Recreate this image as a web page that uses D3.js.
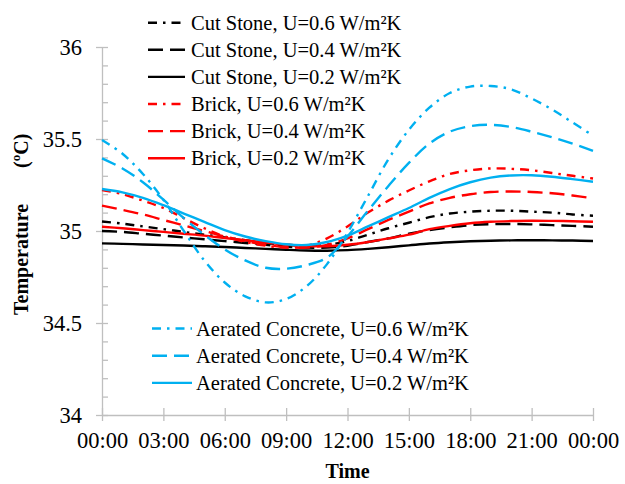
<!DOCTYPE html>
<html><head><meta charset="utf-8">
<script src="https://cdn.jsdelivr.net/npm/d3@7"></script>
<style>
html,body{margin:0;padding:0;background:#fff;}
svg{display:block;}
svg text{font-family:"Liberation Serif","Times New Roman",serif !important;}
</style></head>
<body>
<svg id="chart" width="625" height="484"></svg>
<script>
// ---- data ----
const hours = [0,1,2,3,4,5,6,7,8,9,10,11,12,13,14,15,16,17,18,19,20,21,22,23,24];
const xTickValues = [0,3,6,9,12,15,18,21,24];
const xTickLabels = ["00:00","03:00","06:00","09:00","12:00","15:00","18:00","21:00","00:00"];
const yTickValues = [34,34.5,35,35.5,36];
const yTickLabels = ["34","34.5","35","35.5","36"];

const cutStone06 = [35.052,35.04,35.025,35.01,34.995,34.98,34.965,34.95,34.935,34.925,34.92,34.925,34.945,34.98,35.015,35.045,35.075,35.095,35.105,35.11,35.11,35.105,35.10,35.09,35.083];
const cutStone04 = [35.0,34.995,34.985,34.975,34.965,34.955,34.945,34.935,34.925,34.915,34.91,34.91,34.92,34.94,34.96,34.985,35.005,35.02,35.032,35.037,35.038,35.036,35.032,35.028,35.023];
const cutStone02 = [34.933,34.93,34.927,34.924,34.921,34.917,34.913,34.908,34.903,34.898,34.894,34.893,34.896,34.903,34.912,34.922,34.932,34.939,34.944,34.947,34.949,34.95,34.949,34.948,34.946];
const brick06 = [35.223,35.20,35.165,35.125,35.07,35.015,34.97,34.94,34.92,34.91,34.92,34.96,35.025,35.10,35.165,35.22,35.27,35.31,35.33,35.34,35.338,35.33,35.315,35.30,35.285];
const brick04 = [35.138,35.115,35.09,35.06,35.03,35.0,34.97,34.945,34.925,34.912,34.91,34.925,34.96,35.01,35.06,35.105,35.15,35.18,35.2,35.212,35.215,35.212,35.205,35.193,35.178];
const brick02 = [35.023,35.015,35.005,34.995,34.985,34.975,34.962,34.95,34.937,34.926,34.918,34.917,34.925,34.94,34.96,34.98,35.01,35.028,35.042,35.05,35.054,35.056,35.055,35.053,35.05];
const aerated06 = [35.495,35.42,35.31,35.17,35.0,34.84,34.72,34.645,34.612,34.63,34.70,34.82,34.99,35.19,35.39,35.55,35.67,35.75,35.785,35.788,35.77,35.72,35.66,35.59,35.518];
const aerated04 = [35.395,35.34,35.265,35.17,35.07,34.98,34.9,34.84,34.8,34.795,34.815,34.855,34.97,35.11,35.245,35.37,35.475,35.54,35.57,35.577,35.565,35.54,35.51,35.475,35.435];
const aerated02 = [35.228,35.21,35.18,35.14,35.095,35.05,35.005,34.97,34.945,34.928,34.924,34.94,34.975,35.025,35.075,35.125,35.18,35.228,35.265,35.29,35.302,35.303,35.295,35.282,35.268];

const seriesNames = [
  "Cut Stone, U=0.6 W/m²K","Cut Stone, U=0.4 W/m²K","Cut Stone, U=0.2 W/m²K",
  "Brick, U=0.6 W/m²K","Brick, U=0.4 W/m²K","Brick, U=0.2 W/m²K",
  "Aerated Concrete, U=0.6 W/m²K","Aerated Concrete, U=0.4 W/m²K","Aerated Concrete, U=0.2 W/m²K"];
const seriesValues = [cutStone06,cutStone04,cutStone02,brick06,brick04,brick02,aerated06,aerated04,aerated02];
const seriesColors = ["#000000","#000000","#000000","#FF0000","#FF0000","#FF0000","#00B0F0","#00B0F0","#00B0F0"];
const seriesDash = ["dashdot","dash","solid","dashdot","dash","solid","dashdot","dash","solid"];

// ---- drawing ----
const FONT = '"Liberation Serif","Times New Roman",serif';
const svg = d3.select("#chart");
svg.append("rect").attr("width",625).attr("height",484).attr("fill","#fff");
const x = d3.scaleLinear().domain([0,24]).range([102,593]);
const y = d3.scaleLinear().domain([34,36]).range([415,47]);
const dashMap = {dashdot:"9,6,2.5,6", dash:"15,7", solid:null};
const axisColor = "#BFBFBF";

// y axis: major ticks left + minor ticks right
const yAxis = svg.append("g").attr("transform","translate(102,0)")
  .call(d3.axisLeft(y).tickValues(yTickValues).tickFormat((d,i)=>yTickLabels[i])
        .tickSizeInner(6).tickSizeOuter(0).tickPadding(14));
yAxis.attr("font-family",FONT);
yAxis.select(".domain").attr("stroke",axisColor).attr("stroke-width",1.3);
yAxis.selectAll(".tick line").attr("stroke",axisColor).attr("stroke-width",1.3);
yAxis.selectAll(".tick text").attr("font-size","22.5px").attr("fill","#000").style("font-family",FONT);
const yMinor = d3.range(0,21).map(i=>34+i*0.1);
const yAxis2 = svg.append("g").attr("transform","translate(102,0)")
  .call(d3.axisRight(y).tickValues(yMinor).tickFormat("").tickSizeInner(6).tickSizeOuter(0));
yAxis2.select(".domain").remove();
yAxis2.selectAll(".tick line").attr("stroke",axisColor).attr("stroke-width",1.3);

// x axis: ticks crossing
const xAxis = svg.append("g").attr("transform","translate(0,415)")
  .call(d3.axisBottom(x).tickValues(xTickValues).tickFormat((d,i)=>xTickLabels[i])
        .tickSizeInner(6).tickSizeOuter(0).tickPadding(11));
xAxis.attr("font-family",FONT);
xAxis.select(".domain").attr("stroke",axisColor).attr("stroke-width",1.3);
xAxis.selectAll(".tick line").attr("stroke",axisColor).attr("stroke-width",1.3);
xAxis.selectAll(".tick text").attr("font-size","22.5px").attr("fill","#000").style("font-family",FONT);
const xAxis2 = svg.append("g").attr("transform","translate(0,415)")
  .call(d3.axisTop(x).tickValues(xTickValues).tickFormat("").tickSizeInner(7).tickSizeOuter(0));
xAxis2.select(".domain").remove();
xAxis2.selectAll(".tick line").attr("stroke",axisColor).attr("stroke-width",1.3);

// axis titles
svg.append("text").attr("x",347.5).attr("y",478).attr("text-anchor","middle")
  .attr("font-size","20px").attr("font-weight","bold").style("font-family",FONT).text("Time");
const yt = svg.append("text").attr("transform","translate(28,315) rotate(-90)")
  .attr("text-anchor","start").attr("font-size","20px").attr("font-weight","bold").style("font-family",FONT);
yt.append("tspan").text("Temperature");
yt.append("tspan").attr("dx",36).text("(");
yt.append("tspan").attr("font-size","13px").attr("dy",-8).text("o");
yt.append("tspan").attr("dy",8).text("C)");

// lines
const line = d3.line().x((d,i)=>x(hours[i])).y(d=>y(d)).curve(d3.curveCatmullRom.alpha(0.5));
seriesValues.forEach((vals,k)=>{
  svg.append("path").datum(vals).attr("d",line).attr("fill","none")
    .attr("stroke",seriesColors[k]).attr("stroke-width",2.4)
    .attr("stroke-dasharray",dashMap[seriesDash[k]]);
});

// legends
const legendRowsTop = [0,1,2,3,4,5];
const legendRowsBottom = [6,7,8];
function legendGroup(idx, x0, x1, xt, yStart, step){
  idx.forEach((k,j)=>{
    const yy = yStart + j*step;
    svg.append("line").attr("x1",x0).attr("x2",x1).attr("y1",yy).attr("y2",yy)
      .attr("stroke",seriesColors[k]).attr("stroke-width",2.4)
      .attr("stroke-dasharray",dashMap[seriesDash[k]]);
    svg.append("text").attr("x",xt).attr("y",yy+7).attr("font-size","20.5px")
      .style("font-family",FONT).attr("fill","#000").text(seriesNames[k]);
  });
}
legendGroup(legendRowsTop,148,185,191,22.7,27.1);
legendGroup(legendRowsBottom,152,192,196,328.5,27.2);
</script>
</body></html>
